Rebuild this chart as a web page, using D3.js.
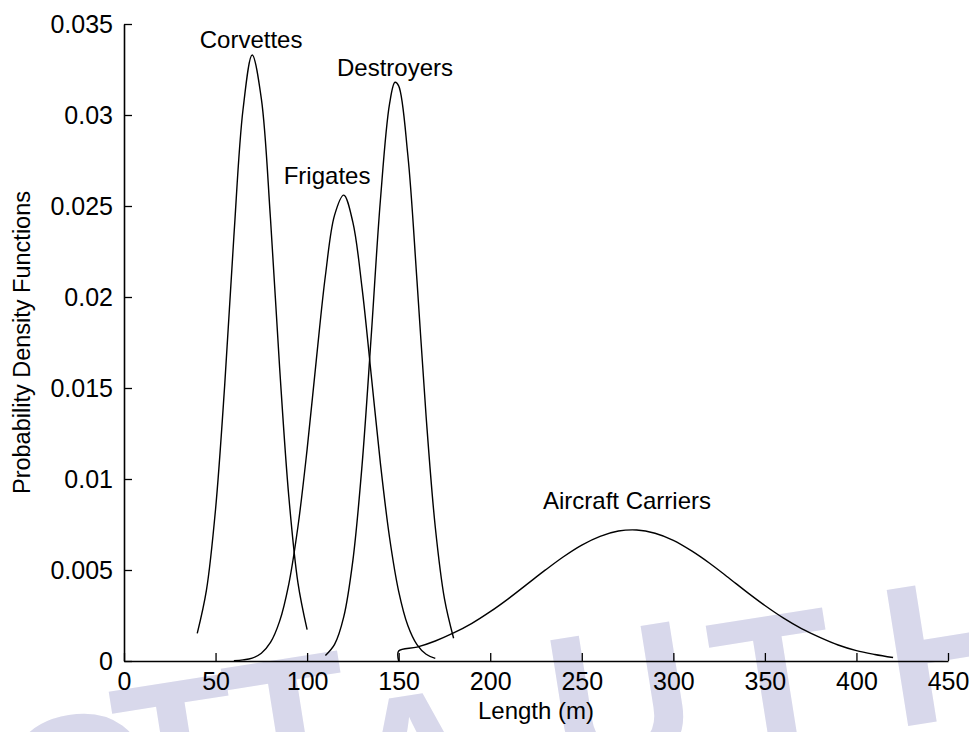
<!DOCTYPE html>
<html>
<head>
<meta charset="utf-8">
<script src="https://cdn.jsdelivr.net/npm/d3@7/dist/d3.min.js"></script>
<style>
  html, body { margin: 0; padding: 0; background: #ffffff; }
  svg { display: block; }
</style>
</head>
<body>
<svg id="chart" width="969" height="732"></svg>
<script>
// ---------------- data ----------------
const xTickValues = [0, 50, 100, 150, 200, 250, 300, 350, 400, 450];
const xTickLabels = ["0", "50", "100", "150", "200", "250", "300", "350", "400", "450"];
const yTickValues = [0, 0.005, 0.01, 0.015, 0.02, 0.025, 0.03, 0.035];
const yTickLabels = ["0", "0.005", "0.01", "0.015", "0.02", "0.025", "0.03", "0.035"];

const seriesNames = ["Corvettes", "Frigates", "Destroyers", "Aircraft Carriers"];

const corvettesLength  = [40, 45, 50, 55, 60, 65, 70, 75, 80, 85, 90, 95, 100];
const corvettesDensity = [0.00152, 0.00388, 0.00834, 0.01517, 0.02332, 0.0303, 0.0333, 0.0309, 0.0243, 0.0161, 0.00904, 0.00429, 0.00172];

const frigatesLength  = [60, 65, 70, 75, 80, 85, 90, 95, 100, 105, 110, 115, 120, 125, 130, 135, 140, 145, 150, 155, 160, 165, 170];
const frigatesDensity = [0.00002, 0.00006, 0.00016, 0.00043, 0.00102, 0.00219, 0.00423, 0.00739, 0.01163, 0.01652, 0.02118, 0.0245, 0.0256, 0.0241, 0.0205, 0.01573, 0.01089, 0.0068, 0.00383, 0.00195, 0.0009, 0.00037, 0.00014];

const destroyersLength  = [110, 115, 120, 125, 130, 135, 140, 145, 148, 150, 155, 160, 165, 170, 175, 180];
const destroyersDensity = [0.0003, 0.00091, 0.00242, 0.00553, 0.01075, 0.01784, 0.02529, 0.0306, 0.0318, 0.0316, 0.0278, 0.0209, 0.01342, 0.00735, 0.00343, 0.00125];

const carriersLength  = [150, 150, 160, 170, 180, 190, 200, 210, 220, 230, 240, 250, 260, 270, 280, 290, 300, 310, 320, 330, 340, 350, 360, 370, 380, 390, 400, 410, 420];
const carriersDensity = [0, 0.00055, 0.00076, 0.0011, 0.00154, 0.00207, 0.00271, 0.00343, 0.00421, 0.00499, 0.00573, 0.00637, 0.00685, 0.00714, 0.0072, 0.00702, 0.00663, 0.00605, 0.00536, 0.00459, 0.0038, 0.00305, 0.00237, 0.00178, 0.0013, 0.00088, 0.00057, 0.00036, 0.00019];

// label anchors (data units: length, density of text baseline)
const labelLength  = [69.4, 110.9, 148.0, 274.7];
const labelDensity = [0.03368, 0.02621, 0.03214, 0.00835];

const xLabel = "Length (m)";
const yLabel = "Probability Density Functions";

// watermark (partially visible, behind the chart)
const watermarkLetters = ["O", "T", "T", "A", "U", "T", "H"];

// ---------------- layout ----------------
const W = 969, H = 732;
const plot = { left: 124, right: 948, top: 24, bottom: 661 };
const FONT = "'Liberation Sans', Arial, Helvetica, sans-serif";

const svg = d3.select("#chart");
svg.append("rect").attr("width", W).attr("height", H).attr("fill", "#ffffff");

// watermark
const wmX = [14, 128, 240, 356, 560, 725, 895];
const wmY = [865, 828, 805, 843, 778, 762, 728];
const wm = svg.append("g").attr("fill", "#d8d8eb")
  .attr("font-family", FONT).attr("font-weight", "bold").attr("font-size", 200);
watermarkLetters.forEach((ch, i) => {
  wm.append("text")
    .attr("transform", `translate(${wmX[i]},${wmY[i]}) rotate(-9)`)
    .text(ch);
});

const x = d3.scaleLinear().domain([0, 450]).range([plot.left, plot.right]);
const y = d3.scaleLinear().domain([0, 0.035]).range([plot.bottom, plot.top]);

// axes
const xAxis = d3.axisBottom(x)
  .tickValues(xTickValues)
  .tickFormat((d, i) => xTickLabels[i])
  .tickSizeInner(-8).tickSizeOuter(0).tickPadding(11);
const yAxis = d3.axisLeft(y)
  .tickValues(yTickValues)
  .tickFormat((d, i) => yTickLabels[i])
  .tickSizeInner(-8).tickSizeOuter(0).tickPadding(11);

const gx = svg.append("g").attr("transform", `translate(0,${plot.bottom})`).call(xAxis);
const gy = svg.append("g").attr("transform", `translate(${plot.left},0)`).call(yAxis);

[gx, gy].forEach(g => {
  g.attr("font-family", FONT).attr("font-size", 25);
  g.select(".domain").attr("stroke", "#000").attr("stroke-width", 1.6);
  g.selectAll(".tick line").attr("stroke", "#000").attr("stroke-width", 1.3);
  g.selectAll(".tick text").attr("fill", "#000");
});

// curves
const series = [
  { len: corvettesLength, dens: corvettesDensity },
  { len: frigatesLength, dens: frigatesDensity },
  { len: destroyersLength, dens: destroyersDensity },
  { len: carriersLength, dens: carriersDensity }
];

const line = d3.line()
  .x(d => x(d[0]))
  .y(d => y(d[1]))
  .curve(d3.curveCatmullRom.alpha(0.5));

svg.append("g").selectAll("path")
  .data(series)
  .join("path")
  .attr("d", s => line(s.len.map((v, i) => [v, s.dens[i]])))
  .attr("fill", "none")
  .attr("stroke", "#000")
  .attr("stroke-width", 1.4);

// curve labels
svg.append("g").selectAll("text")
  .data(seriesNames)
  .join("text")
  .attr("x", (d, i) => x(labelLength[i]))
  .attr("y", (d, i) => y(labelDensity[i]))
  .attr("text-anchor", "middle")
  .attr("font-family", FONT)
  .attr("font-size", 24)
  .attr("fill", "#000")
  .text(d => d);

// axis titles
svg.append("text")
  .attr("x", (plot.left + plot.right) / 2)
  .attr("y", 719)
  .attr("text-anchor", "middle")
  .attr("font-family", FONT)
  .attr("font-size", 24)
  .attr("fill", "#000")
  .text(xLabel);

svg.append("text")
  .attr("transform", `translate(30,${(plot.top + plot.bottom) / 2}) rotate(-90)`)
  .attr("text-anchor", "middle")
  .attr("font-family", FONT)
  .attr("font-size", 23.5)
  .attr("fill", "#000")
  .text(yLabel);
</script>
</body>
</html>
